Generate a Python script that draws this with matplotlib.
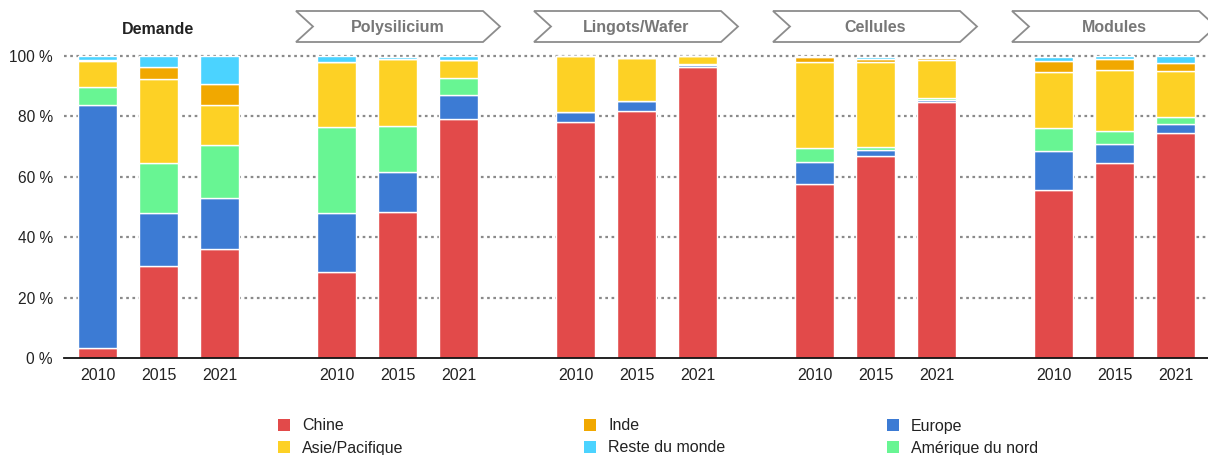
import matplotlib
matplotlib.use("Agg")
import matplotlib.pyplot as plt
from matplotlib.patches import Polygon, Rectangle

plt.rcParams['font.family'] = ['Liberation Sans', 'DejaVu Sans']

groups = ["Demande", "Polysilicium", "Lingots/Wafer", "Cellules", "Modules"]
years = ["2010", "2015", "2021"]

# share in % per bar (5 groups x 3 years), stacked from bottom
chine = [3.3, 30.4, 36.2, 28.6, 48.4, 79.2, 78.1, 81.8, 96.5, 57.6, 66.8, 84.8, 55.7, 64.6, 74.4]
europe = [80.4, 17.6, 16.7, 19.3, 13.2, 7.8, 3.2, 3.2, 0.5, 7.2, 2.1, 0.6, 12.7, 6.3, 3.0]
amerique = [6.0, 16.6, 17.6, 28.6, 15.2, 5.6, 0.0, 0.0, 0.2, 4.8, 1.1, 0.8, 7.7, 4.3, 2.3]
asie = [8.8, 27.8, 13.2, 21.5, 22.3, 6.1, 18.7, 14.2, 2.8, 28.4, 28.0, 12.4, 18.5, 20.2, 15.2]
inde = [0.3, 3.9, 6.9, 0.0, 0.0, 0.0, 0.0, 0.0, 0.0, 1.6, 1.1, 0.9, 3.6, 3.6, 2.9]
reste = [1.2, 3.7, 9.4, 2.0, 0.6, 1.3, 0.0, 0.4, 0.0, 0.4, 0.5, 0.2, 1.6, 0.9, 2.2]

series = [
    ("Chine", chine, "#E24A4A"),
    ("Europe", europe, "#3C7BD4"),
    ("Amérique du nord", amerique, "#68F593"),
    ("Asie/Pacifique", asie, "#FDD125"),
    ("Inde", inde, "#F1A800"),
    ("Reste du monde", reste, "#4BD3FF"),
]
colors = {name: c for name, _, c in series}

W, H = 1208, 455
fig = plt.figure(figsize=(W / 100, H / 100), dpi=100)
ax = fig.add_axes([64 / W, 1 - 358 / H, (W - 64) / W, 305 / H])

gstep = 3.918
pos = [g * gstep + i for g in range(len(groups)) for i in range(len(years))]

bottom = [0.0] * len(pos)
for name, vals, col in series:
    ax.bar(pos, vals, width=0.64, bottom=bottom, color=col,
           edgecolor="white", linewidth=1, zorder=2)
    bottom = [b + v for b, v in zip(bottom, vals)]

ax.set_xlim(-0.557, 18.2)
ax.set_ylim(0, 101)
ax.set_yticks([0, 20, 40, 60, 80, 100])
ax.set_yticklabels(["0 %", "20 %", "40 %", "60 %", "80 %", "100 %"])
ax.set_xticks(pos)
ax.set_xticklabels(years * len(groups))
ax.tick_params(length=0, colors="#222222")
ax.tick_params(axis="x", pad=7, labelsize=11.5)
ax.tick_params(axis="y", pad=8, labelsize=11.2)
for y in [20, 40, 60, 80, 100]:
    ax.axhline(y, color="#8a8a8a", linestyle=(0, (1.2, 1.6)), linewidth=1.6, zorder=1)
for s in ["top", "right", "left"]:
    ax.spines[s].set_visible(False)
ax.spines["bottom"].set_color("#111111")
ax.spines["bottom"].set_linewidth(1.3)
ax.spines["bottom"].set_zorder(3)

# overlay in pixel coordinates for headers and legend
ov = fig.add_axes([0, 0, 1, 1])
ov.set_xlim(0, W)
ov.set_ylim(H, 0)
ov.axis("off")
ov.patch.set_alpha(0)

ov.text(158, 29.5, groups[0], ha="center", va="center", fontsize=11.5,
        fontweight="bold", color="#222222")
chevrons = [296, 534, 773, 1012]
for left, label in zip(chevrons, groups[1:]):
    right = left + 204
    pts = [(left, 11), (right - 17, 11), (right, 26.5), (right - 17, 42),
           (left, 42), (left + 17, 26.5)]
    ov.add_patch(Polygon(pts, closed=True, facecolor="white",
                         edgecolor="#8c8c8c", linewidth=1.3, clip_on=False))
    ov.text(left + 102, 27.5, label, ha="center", va="center", fontsize=11.5,
            fontweight="bold", color="#777777")

legend_order = [["Chine", "Inde", "Europe"],
                ["Asie/Pacifique", "Reste du monde", "Amérique du nord"]]
col_x = [278, 584, 887]
row_y = [425, 447]
for r, row in enumerate(legend_order):
    for c, name in enumerate(row):
        ov.add_patch(Rectangle((col_x[c], row_y[r] - 6), 12, 12,
                               facecolor=colors[name], edgecolor="none"))
        ov.text(col_x[c] + 24, row_y[r] + 1, name, ha="left", va="center",
                fontsize=11.5, color="#222222")

fig.savefig("out.png", dpi=100)
